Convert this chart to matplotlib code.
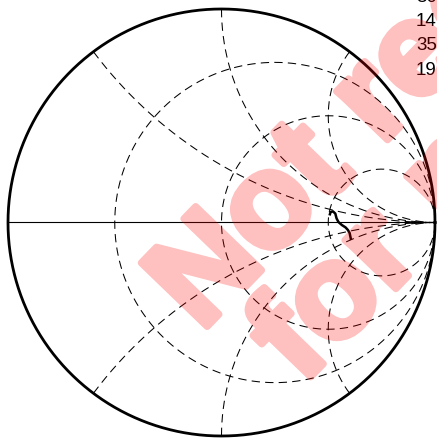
import numpy as np
import matplotlib
matplotlib.use("Agg")
import matplotlib.pyplot as plt
import matplotlib.patheffects as pe

# ---- data (reflection coefficient trace) ----
gamma_re = [0.506, 0.511, 0.522, 0.533, 0.539, 0.548, 0.564, 0.581, 0.592, 0.600, 0.604, 0.607]
gamma_im = [0.033, 0.049, 0.052, 0.042, 0.019, 0.002, -0.012, -0.023, -0.035, -0.049, -0.068, -0.082]

# Smith grid values
r_values = [1/3, 1, 3]
x_values = [0.5, 1, 2]

# side text (cut at the right edge)
side_labels = ["30", "14", "35", "19"]
watermark_lines = ["Not recommended", "for publication"]

W, H = 437, 440
fig = plt.figure(figsize=(W/100, H/100), dpi=100)
ax = fig.add_axes([0, 0, 1, 1])
ax.set_axis_off()
cx, cy, R = 221.5, 222.5, 213.5
ax.set_xlim((0 - cx)/R, (W - cx)/R)
ax.set_ylim((cy - H)/R, (cy - 0)/R)

dash = (0, (8, 5))
glw = 0.75

# constant resistance circles
t = np.linspace(0, 2*np.pi, 721)
for r in r_values:
    c = r/(1+r); rad = 1/(1+r)
    ax.plot(c + rad*np.cos(t), rad*np.sin(t), color="black", lw=glw, ls=dash)

# constant reactance arcs
rr = np.concatenate([[0], np.logspace(-3, 4, 800)])
for x in x_values:
    for s in (1, -1):
        z = rr + 1j*s*x
        g = (z - 1)/(z + 1)
        ax.plot(g.real, g.imag, color="black", lw=glw, ls=dash)

# real axis
ax.plot([-1, 1], [0, 0], color="black", lw=0.8)

# outer boundary
ax.plot(np.cos(t), np.sin(t), color="black", lw=2.0)

# trace
ax.plot(gamma_re, gamma_im, color="black", lw=1.8, solid_capstyle="butt")

# side labels
for i, s in enumerate(side_labels):
    fig.text(416/W, 1 - (-3 + 24.5*i)/H, s, fontsize=13.5, family="Liberation Sans",
             ha="left", va="center", color="black")

# watermark: opaque heavy red text, then made translucent as a whole
def translucent(img, dpi):
    img = img.copy()
    img[..., 3] *= 0.25
    return img, 0, 0

ang = 46
for (px, py), s in zip([(201, 333), (302, 386)], watermark_lines):
    tx = fig.text(px/W, 1 - py/H, s, fontsize=96, family="Liberation Sans",
                  fontweight="bold", color="red", rotation=ang, rotation_mode="anchor",
                  ha="left", va="baseline",
                  path_effects=[pe.withStroke(linewidth=5, foreground="red")])
    tx.set_agg_filter(translucent)

fig.savefig("out.png", dpi=100)
